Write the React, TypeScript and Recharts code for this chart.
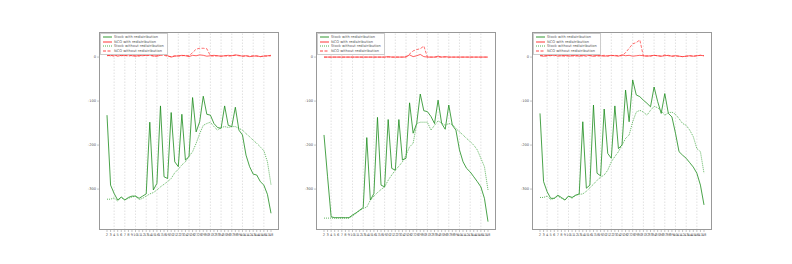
import { LineChart, Line, XAxis, YAxis, ReferenceLine, Legend } from 'recharts'

const CATEGORIES = [2, 3, 4, 5, 6, 7, 8, 9, 10, 11, 12, 13, 14, 15, 16, 17, 18, 19, 20, 21, 22, 23, 24, 25, 26, 27, 28, 29, 30, 31, 32, 33, 34, 35, 36, 37, 38, 39, 40, 41, 42, 43, 44, 45, 46, 47, 48]
const GRID_X = [4, 7, 10, 13, 16, 19, 22, 25, 28, 31, 34, 37, 40, 43, 46]
const Y_TICKS = [0, -100, -200, -300]

const SERIES_NAMES = ['Stock with redistribution', 'NCO with redistribution', 'Stock without redistribution', 'NCO without redistribution']

// panel 1
const stock1With = [-132, -291, -310, -325, -318, -325, -319, -316, -316, -321, -316, -311, -148, -302, -287, -111, -272, -276, -126, -238, -249, -130, -234, -226, -92, -170, -147, -89, -130, -132, -151, -160, -162, -111, -155, -158, -114, -166, -177, -223, -249, -266, -268, -283, -291, -312, -355]
const nco1With = [4, 3, 5, 2, 4, 3, 5, 3, 2, 4, 3, 4, 5, 3, 2, 4, 6, 3, 0, 2, 3, 4, 3, 1, 4, 3, 5, 4, 2, 3, 4, 3, 2, 3, 4, 3, 5, 4, 2, 3, 1, 2, 3, 1, 2, 3, 4]
const stock1Without = [-323, -323, -320, -327, -319, -324, -321, -318, -316, -324, -321, -316, -311, -308, -302, -295, -289, -283, -276, -263, -255, -245, -238, -226, -215, -196, -174, -155, -151, -148, -158, -166, -160, -158, -160, -158, -158, -162, -166, -174, -181, -189, -196, -204, -213, -238, -290]
const nco1Without = [3, 4, 2, 5, 3, 4, 2, 4, 3, 2, 5, 3, 4, 2, 3, 5, 4, 2, 1, 3, 2, 3, 4, 3, 10, 18, 20, 20, 19, 3, 2, 3, 2, 3, 2, 3, 4, 3, 2, 3, 2, 3, 2, 1, 3, 2, 3]

// panel 2
const stock2With = [-177, -272, -363, -365, -365, -365, -365, -365, -359, -354, -348, -342, -183, -325, -310, -137, -291, -295, -142, -253, -257, -142, -234, -230, -104, -173, -151, -84, -122, -124, -135, -151, -98, -151, -164, -109, -155, -166, -211, -238, -253, -261, -272, -283, -295, -321, -374]
const nco2With = [0, 0, 0, 0, 0, 0, 0, 0, 0, 0, 0, 0, 0, 0, 0, 0, 0, 0, 1, 0, 0, 0, 0, 0, 5, 1, 3, 6, 1, 0, 0, 0, 2, 0, 1, 0, 0, 0, 0, 0, 0, 0, 0, 0, 0, 0, 0]
const stock2Without = [-366, -366, -366, -366, -366, -366, -366, -366, -361, -355, -349, -344, -341, -325, -316, -308, -301, -295, -280, -268, -257, -248, -238, -223, -204, -196, -151, -148, -148, -148, -166, -155, -145, -150, -155, -151, -153, -162, -170, -177, -185, -192, -200, -211, -230, -249, -302]
const nco2Without = [0, 0, 0, 0, 0, 0, 0, 0, 0, 0, 0, 0, 0, 0, 0, 0, 0, 0, 0, 0, 0, 0, 0, 1, 7, 14, 17, 19, 25, 0, 0, 0, 0, 0, 0, 0, 0, 0, 0, 0, 0, 0, 0, 0, 0, 0, 0]

// panel 3
const stock3With = [-128, -283, -306, -321, -321, -314, -319, -325, -316, -319, -314, -311, -147, -298, -291, -109, -264, -270, -118, -219, -230, -111, -208, -200, -75, -147, -52, -86, -90, -98, -105, -113, -68, -101, -128, -83, -128, -136, -173, -215, -223, -230, -240, -250, -264, -291, -336]
const nco3With = [3, 2, 4, 3, 5, 2, 3, 4, 2, 3, 4, 2, 3, 5, 3, 2, 4, 3, 2, 3, 4, 3, 2, 5, 3, 4, 2, 3, 4, 3, 2, 3, 4, 3, 2, 3, 4, 2, 3, 2, 1, 2, 3, 2, 3, 4, 3]
const stock3Without = [-319, -319, -316, -324, -321, -316, -321, -324, -316, -321, -314, -312, -311, -305, -297, -289, -280, -273, -268, -257, -238, -226, -215, -200, -185, -177, -147, -125, -121, -125, -132, -121, -112, -115, -122, -132, -127, -125, -130, -140, -151, -155, -166, -181, -208, -215, -264]
const nco3Without = [4, 3, 2, 4, 3, 5, 3, 2, 4, 3, 2, 4, 3, 2, 4, 3, 2, 3, 4, 2, 3, 4, 3, 3, 10, 20, 30, 33, 39, 2, 3, 2, 4, 3, 2, 5, 3, 2, 3, 2, 1, 2, 3, 2, 3, 4, 3]

const STYLES = [
  { key: 'stockWith', stroke: '#1c8c1c', dash: undefined, width: 0.8 },
  { key: 'ncoWith', stroke: '#ff2020', dash: undefined, width: 0.7 },
  { key: 'stockWithout', stroke: '#3aa33a', dash: '1 1', width: 0.8 },
  { key: 'ncoWithout', stroke: '#ff3030', dash: '3 1.5', width: 0.7 },
]

function LegendBox() {
  return (
    <div style={{ background: '#fff', border: '0.5px solid #ccc', padding: '1px 2px', width: 62, fontFamily: 'DejaVu Sans', fontSize: 3.6, color: '#555', lineHeight: '4.5px' }}>
      {STYLES.map((s, i) => (
        <div key={s.key} style={{ display: 'flex', alignItems: 'center', height: 4.5 }}>
          <svg width={9} height={4} style={{ marginRight: 2 }}>
            <line x1={0} y1={2} x2={9} y2={2} stroke={s.stroke} strokeWidth={0.9} strokeDasharray={s.dash} />
          </svg>
          <span>{SERIES_NAMES[i]}</span>
        </div>
      ))}
    </div>
  )
}

interface PanelProps {
  left: number
  stockWith: number[]
  ncoWith: number[]
  stockWithout: number[]
  ncoWithout: number[]
}

function Panel({ left, stockWith, ncoWith, stockWithout, ncoWithout }: PanelProps) {
  const data = CATEGORIES.map((k, i) => ({
    k,
    stockWith: stockWith[i],
    ncoWith: ncoWith[i],
    stockWithout: stockWithout[i],
    ncoWithout: ncoWithout[i],
  }))
  const tickStyle = { fontSize: 3.6, fill: '#555', fontFamily: 'DejaVu Sans' }

  return (
    <div style={{ position: 'absolute', left: left - 40, top: 0, width: 224, height: 264 }}>
      <LineChart width={224} height={264} data={data} margin={{ top: 32, right: 4, bottom: 0, left: 0 }}>
        <XAxis dataKey="k" type="number" domain={[2, 48]} ticks={CATEGORIES} interval={0} padding={{ left: 8, right: 8 }}
          height={34} tickSize={2} axisLine={false} tickLine={{ stroke: '#888', strokeWidth: 0.5 }} tick={tickStyle} tickMargin={1} />
        <YAxis type="number" domain={[-393, 57]} ticks={Y_TICKS} width={40} tickSize={2} axisLine={false}
          tickLine={{ stroke: '#888', strokeWidth: 0.5 }} tick={tickStyle} tickMargin={1} />
        {GRID_X.map((g) => (
          <ReferenceLine key={g} x={g} stroke="#ccc" strokeWidth={0.6} strokeDasharray="1.5 1.5" />
        ))}
        {STYLES.map((s, i) => (
          <Line key={s.key} dataKey={s.key} name={SERIES_NAMES[i]} stroke={s.stroke} strokeWidth={s.width}
            strokeDasharray={s.dash} dot={false} isAnimationActive={false} />
        ))}
        <Legend layout="vertical" align="center" verticalAlign="middle" content={() => <LegendBox />}
          wrapperStyle={{ left: 41, top: 33, width: 'auto' }} />
      </LineChart>
      <div style={{ position: 'absolute', left: 40, top: 32, width: 180, height: 198, border: '1px solid #999', boxSizing: 'border-box', pointerEvents: 'none' }} />
    </div>
  )
}

export default function App() {
  return (
    <div style={{ position: 'absolute', left: 0, top: 0, width: 792, height: 264, background: '#fff' }}>
      <Panel left={99} stockWith={stock1With} ncoWith={nco1With} stockWithout={stock1Without} ncoWithout={nco1Without} />
      <Panel left={316} stockWith={stock2With} ncoWith={nco2With} stockWithout={stock2Without} ncoWithout={nco2Without} />
      <Panel left={532} stockWith={stock3With} ncoWith={nco3With} stockWithout={stock3Without} ncoWithout={nco3Without} />
    </div>
  )
}
